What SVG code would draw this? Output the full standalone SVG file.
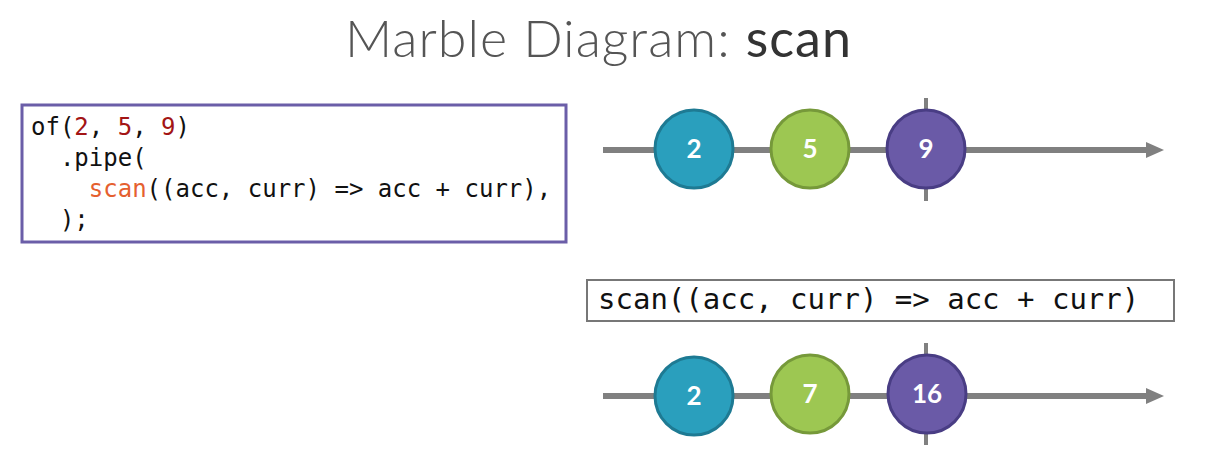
<svg xmlns="http://www.w3.org/2000/svg" width="1206" height="468" viewBox="0 0 1206 468">
<style>
.title{font-family:Lato,"Open Sans",sans-serif;font-size:52px;fill:#555;letter-spacing:1px;}
.code{font-family:"DejaVu Sans Mono","Liberation Mono",monospace;font-size:24px;fill:#111;}
.num{fill:#a31515;}
.fn{fill:#e5602f;}
.tl{stroke:#808080;stroke-width:6;fill:none;}
.tick{stroke:#808080;stroke-width:4;}
.mtxt{font-family:Lato,"Open Sans",sans-serif;font-size:26px;font-weight:700;fill:#fff;text-anchor:middle;}
.blue{fill:#2a9fbd;stroke:#1e7a93;stroke-width:3;}
.green{fill:#9dc752;stroke:#76993a;stroke-width:3;}
.purple{fill:#6a5aa7;stroke:#493d84;stroke-width:3;}
</style>
<defs>
<marker id="arr" viewBox="0 0 18 16" refX="0" refY="8" markerWidth="18" markerHeight="16" markerUnits="userSpaceOnUse" orient="auto">
<path d="M0,0 L18,8 L0,16 Z" fill="#808080"/>
</marker>
</defs>
<rect width="1206" height="468" fill="#fff"/>
<text class="title" x="345" y="57" textLength="507" lengthAdjust="spacing"><tspan font-weight="300">Marble Diagram: </tspan><tspan font-weight="400" fill="#333">scan</tspan></text>

<g id="code">
<rect x="22" y="105" width="544" height="137" fill="#fff" stroke="#6b5ea8" stroke-width="3"/>
<text class="code" x="31" y="135">of(<tspan class="num">2</tspan>, <tspan class="num">5</tspan>, <tspan class="num">9</tspan>)</text>
<text class="code" x="31" y="166" xml:space="preserve">  .pipe(</text>
<text class="code" x="31" y="197" xml:space="preserve">    <tspan class="fn">scan</tspan>((acc, curr) =&gt; acc + curr),</text>
<text class="code" x="31" y="228" xml:space="preserve">  );</text>
</g>

<g id="connectors">
<line class="tl" x1="603" y1="150" x2="1146" y2="150" marker-end="url(#arr)"/>
<line class="tick" x1="926" y1="98" x2="926" y2="201"/>
<line class="tl" x1="603" y1="396" x2="1146" y2="396" marker-end="url(#arr)"/>
<line class="tick" x1="926" y1="343" x2="926" y2="445"/>
</g>

<g id="operator">
<rect x="587" y="280" width="587" height="41" fill="#fff" stroke="#777" stroke-width="2"/>
<text class="code" x="598" y="309" style="font-size:29px">scan((acc, curr) =&gt; acc + curr)</text>
</g>

<g id="in-2"><circle class="blue" cx="694" cy="149" r="39"/><text class="mtxt" x="694" y="158">2</text></g>
<g id="in-5"><circle class="green" cx="810" cy="149" r="39"/><text class="mtxt" x="810" y="158">5</text></g>
<g id="in-9"><circle class="purple" cx="926" cy="149" r="39"/><text class="mtxt" x="926" y="158">9</text></g>

<g id="out-2"><circle class="blue" cx="694" cy="396" r="39"/><text class="mtxt" x="694" y="405">2</text></g>
<g id="out-7"><circle class="green" cx="810" cy="394" r="39"/><text class="mtxt" x="810" y="403">7</text></g>
<g id="out-16"><circle class="purple" cx="927" cy="394" r="39"/><text class="mtxt" x="927" y="403">16</text></g>
</svg>
